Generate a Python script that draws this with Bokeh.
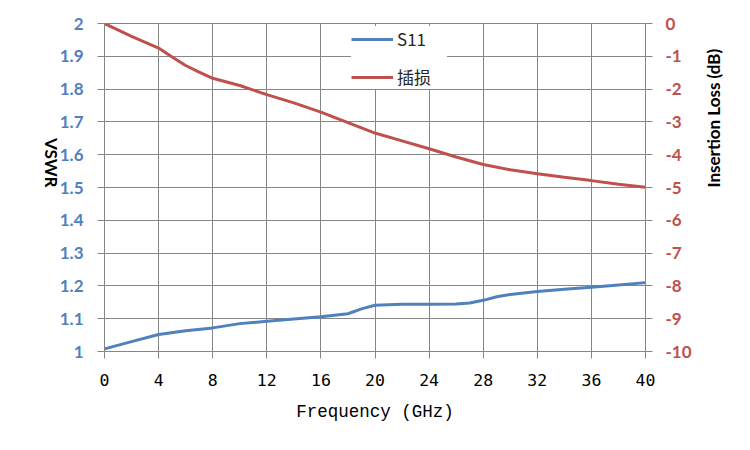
import math
from bokeh.plotting import figure
from bokeh.models import Range1d, LinearAxis, FixedTicker, Legend, LegendItem
from bokeh.embed import file_html
from bokeh.resources import INLINE

# ---- data ----
s11_freq = [0, 2, 4, 6, 8, 10, 12, 14, 16, 18, 19, 20, 22, 24, 26, 27, 28, 29, 30, 32, 34, 36, 38, 40]
vswr_s11 = [1.008, 1.030, 1.052, 1.063, 1.072, 1.085, 1.092, 1.099, 1.106, 1.115, 1.130, 1.141,
            1.144, 1.144, 1.145, 1.148, 1.156, 1.167, 1.174, 1.183, 1.190, 1.196, 1.203, 1.210]
il_freq = [0, 2, 4, 5, 6, 7, 8, 10, 12, 14, 16, 18, 20, 22, 24, 26, 28, 30, 32, 34, 36, 38, 40]
insertion_loss = [0.0, -0.39, -0.75, -1.02, -1.28, -1.48, -1.67, -1.89, -2.17, -2.42, -2.70, -3.02,
                  -3.34, -3.58, -3.82, -4.07, -4.30, -4.46, -4.58, -4.69, -4.79, -4.90, -4.99]

x_ticks = [0, 4, 8, 12, 16, 20, 24, 28, 32, 36, 40]
left_ticks = [1.0, 1.1, 1.2, 1.3, 1.4, 1.5, 1.6, 1.7, 1.8, 1.9, 2.0]
left_labels = ["1", "1.1", "1.2", "1.3", "1.4", "1.5", "1.6", "1.7", "1.8", "1.9", "2"]
right_ticks = [0, -1, -2, -3, -4, -5, -6, -7, -8, -9, -10]
right_labels = ["0", "-1", "-2", "-3", "-4", "-5", "-6", "-7", "-8", "-9", "-10"]

series_names = ["S11", "插损"]

BLUE = "#4F81BD"
RED = "#C0504D"
GRID = "#868686"

p = figure(width=734, height=434, output_backend="svg", toolbar_location=None,
           x_range=Range1d(0, 40), y_range=Range1d(1, 2),
           frame_width=541, frame_height=328,
           min_border_left=104, min_border_right=89, min_border_top=23, min_border_bottom=83)
p.extra_y_ranges = {"il": Range1d(-10, 0)}
p.outline_line_color = GRID
p.background_fill_color = "white"
p.border_fill_color = "white"

# grids
p.xgrid.ticker = FixedTicker(ticks=x_ticks)
p.ygrid.ticker = FixedTicker(ticks=left_ticks)
for g in (p.xgrid, p.ygrid):
    g.grid_line_color = GRID
    g.grid_line_width = 1

# bottom axis
xa = p.xaxis[0]
xa.ticker = FixedTicker(ticks=x_ticks)
xa.axis_label = "Frequency (GHz)"
xa.axis_label_text_font = "Liberation Mono"
xa.axis_label_text_font_size = "17.5px"
xa.axis_label_text_font_style = "normal"
xa.axis_label_text_color = "#000000"
xa.axis_label_standoff = 13
xa.major_label_text_font = "DejaVu Sans Mono"
xa.major_label_text_font_size = "16.5px"
xa.major_label_text_color = "#000000"
xa.major_label_standoff = 15

# left axis
ya = p.yaxis[0]
ya.ticker = FixedTicker(ticks=left_ticks)
ya.major_label_overrides = {t: l for t, l in zip(left_ticks, left_labels)}
ya.major_label_text_font = "Lato"
ya.major_label_text_font_style = "bold"
ya.major_label_text_font_size = "17px"
ya.major_label_text_color = BLUE
ya.major_label_standoff = 14
ya.axis_label = "VSWR"
ya.axis_label_text_font = "Lato"
ya.axis_label_text_font_style = "bold"
ya.axis_label_text_font_size = "17px"
ya.axis_label_text_color = "#000000"
ya.axis_label_standoff = 5

# right axis
ra = LinearAxis(y_range_name="il", ticker=FixedTicker(ticks=right_ticks),
                axis_label="Insertion Loss (dB)")
ra.major_label_overrides = {t: l for t, l in zip(right_ticks, right_labels)}
ra.major_label_text_font = "Lato"
ra.major_label_text_font_style = "bold"
ra.major_label_text_font_size = "17px"
ra.major_label_text_color = RED
ra.major_label_standoff = 13
ra.axis_label_text_font = "Lato"
ra.axis_label_text_font_style = "bold"
ra.axis_label_text_font_size = "17px"
ra.axis_label_text_color = "#000000"
ra.axis_label_standoff = 19
p.add_layout(ra, "right")

# title orientations: left reads top-to-bottom, right reads bottom-to-top
try:
    ya.axis_label_orientation = -math.pi / 2
    ra.axis_label_orientation = math.pi / 2
except Exception:
    pass

for ax in (xa, ya, ra):
    ax.axis_line_color = GRID
    ax.major_tick_line_color = GRID
    ax.major_tick_out = 7
    ax.major_tick_in = 0
    ax.minor_tick_line_color = None

# lines
r1 = p.line(s11_freq, vswr_s11, line_color=BLUE, line_width=3)
r2 = p.line(il_freq, insertion_loss, line_color=RED, line_width=3, y_range_name="il")

legend = Legend(items=[LegendItem(label=series_names[0], renderers=[r1]),
                       LegendItem(label=series_names[1], renderers=[r2])],
                location=(247, 262), orientation="vertical",
                glyph_width=42, glyph_height=16, label_height=16, label_width=50,
                label_standoff=4, spacing=13, padding=8, margin=0,
                border_line_color=None, background_fill_color="white",
                background_fill_alpha=1.0,
                label_text_font="Noto Sans CJK SC", label_text_font_size="17px",
                label_text_color="#262626")
p.add_layout(legend, "center")

open("out.html", "w").write(file_html(p, INLINE))
